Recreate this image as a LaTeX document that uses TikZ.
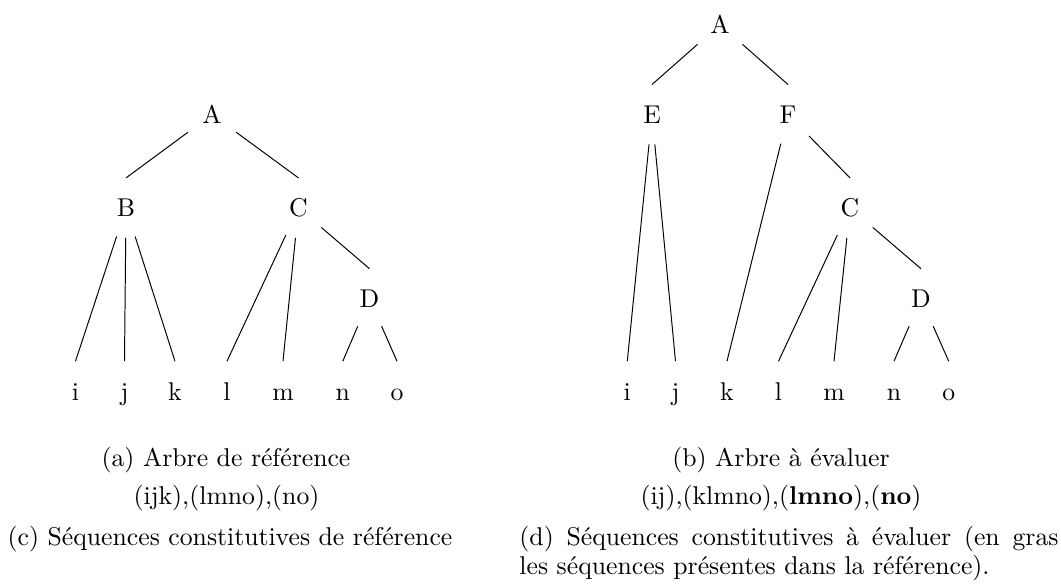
\documentclass[tikz,border=0pt]{standalone}
\usepackage{fontspec}
\begin{document}
\begin{tikzpicture}[x=0.4065pt,y=-0.4065pt,
  font=\fontsize{10.45}{12.54}\selectfont,
  tn/.style={circle,minimum size=24pt,inner sep=0pt,text height=7.14pt,text depth=0pt,anchor=base},
  captxt/.style={inner sep=0pt,anchor=base},
  every path/.style={line width=0.4pt}]
\useasboundingbox (0,0) rectangle (1061,586);
% ---- left tree
\node[tn] (lA) at (212,123.3) {A};
\node[tn] (lB) at (126,216.7) {B};
\node[tn] (lC) at (298.5,216.7) {C};
\node[tn] (lD) at (369.5,307.5) {D};
\node[tn] (li) at (75.5,400) {i};
\node[tn] (lj) at (124.5,400) {j};
\node[tn] (lk) at (175,400) {k};
\node[tn] (ll) at (227,400) {l};
\node[tn] (lm) at (283,400) {m};
\node[tn] (ln) at (342.8,400) {n};
\node[tn] (lo) at (397,400) {o};
\draw (lA) -- (lB.north);
\draw (lA) -- (lC.north);
\draw (lB) -- (li.north);
\draw (lB) -- (lj.north);
\draw (lB) -- (lk.north);
\draw (lC) -- (ll.north);
\draw (lC) -- (lm.north);
\draw (lC) -- (lD.north);
\draw (lD) -- (ln.north);
\draw (lD) -- (lo.north);
% ---- right tree
\node[tn] (rA) at (720,33.3) {A};
\node[tn] (rE) at (652,123.3) {E};
\node[tn] (rF) at (788,123.3) {F};
\node[tn] (rC) at (850,216.7) {C};
\node[tn] (rD) at (921,307.5) {D};
\node[tn] (ri) at (627.3,400) {i};
\node[tn] (rj) at (675.5,400) {j};
\node[tn] (rk) at (727,400) {k};
\node[tn] (rl) at (778.5,400) {l};
\node[tn] (rm) at (834,400) {m};
\node[tn] (rn) at (894,400) {n};
\node[tn] (ro) at (948.7,400) {o};
\draw (rA) -- (rE.north);
\draw (rA) -- (rF.north);
\draw (rE) -- (ri.north);
\draw (rE) -- (rj.north);
\draw (rF) -- (rk.north);
\draw (rF) -- (rC.north);
\draw (rC) -- (rl.north);
\draw (rC) -- (rm.north);
\draw (rC) -- (rD.north);
\draw (rD) -- (rn.north);
\draw (rD) -- (ro.north);
% ---- captions
\node[captxt] (capa) at (226,466) {(a) Arbre de référence};
\node[captxt] (capb) at (781,466) {(b) Arbre à évaluer};
\node[captxt] (seqa) at (226.5,504) {(ijk),(lmno),(no)};
\node[captxt] (seqb) at (781,504) {(ij),(klmno),(\textbf{lmno}),(\textbf{no})};
\node[captxt] (capc) at (230,545) {(c) Séquences constitutives de référence};
\node[captxt,anchor=base west] (capd1) at (519,545) {\makebox[219.1pt][s]{(d) Séquences constitutives à évaluer (en gras}};
\node[captxt,anchor=base west] (capd2) at (519,574) {les séquences présentes dans la référence).};
\end{tikzpicture}
\end{document}
